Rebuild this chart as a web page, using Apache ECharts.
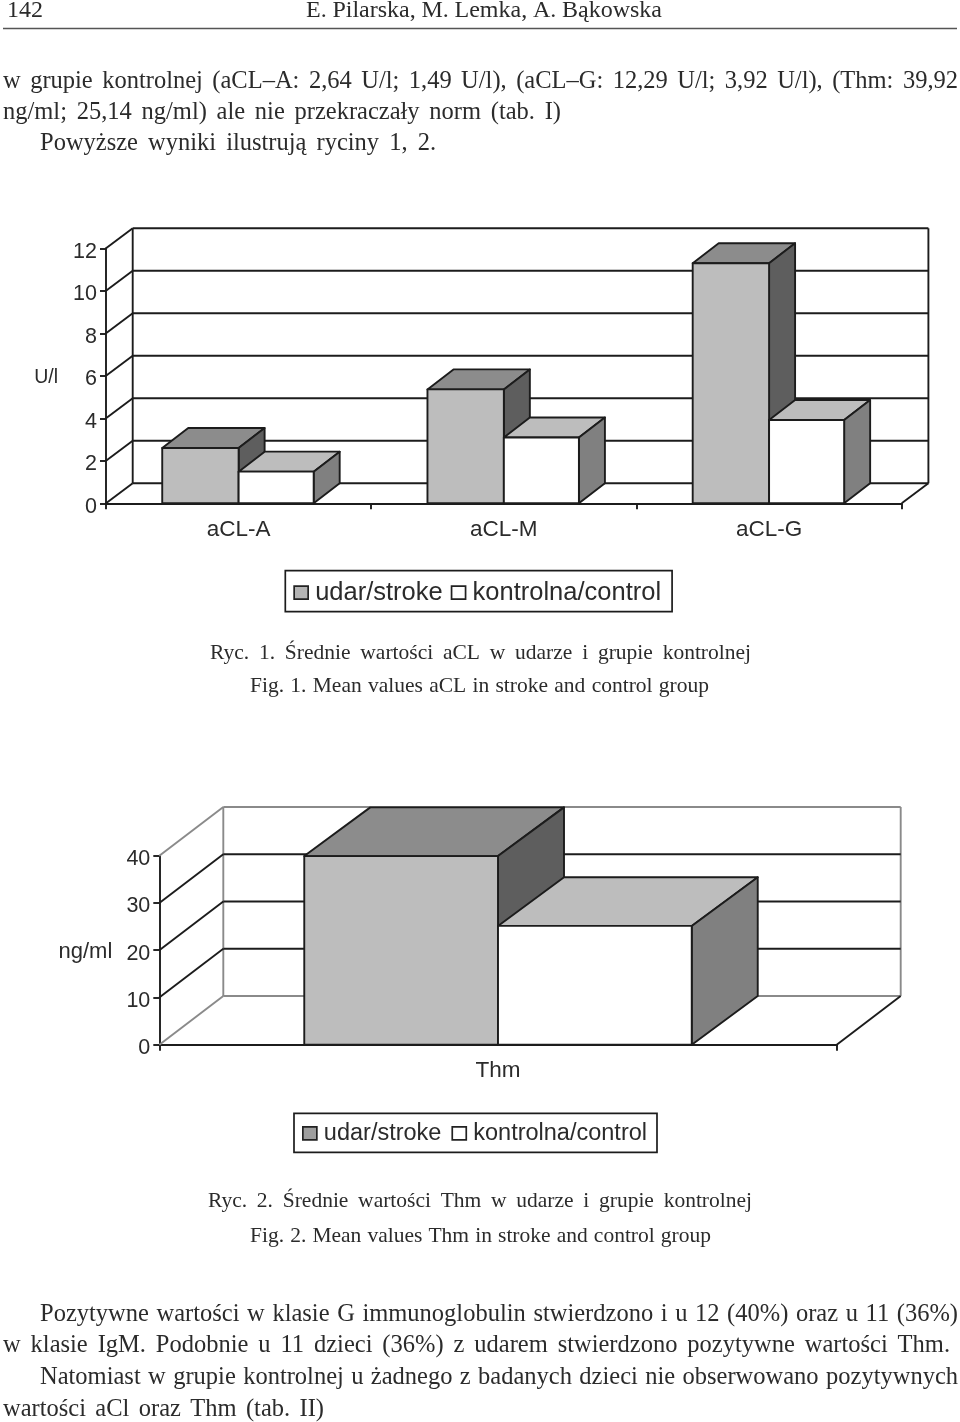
<!DOCTYPE html>
<html><head><meta charset="utf-8">
<style>html,body{margin:0;padding:0;background:#fff}#c{width:960px;height:1422px}</style>
<script src="https://cdn.jsdelivr.net/npm/echarts@6/dist/echarts.min.js"></script>
</head><body><div id="c"></div>
<script>
var aclCategories = ['aCL-A', 'aCL-M', 'aCL-G'];
var aclStroke = [2.6, 5.36, 11.3];
var aclControl = [1.49, 3.1, 3.92];
var aclTicks = [0, 2, 4, 6, 8, 10, 12];
var thmCategories = ['Thm'];
var thmStroke = [39.92];
var thmControl = [25.14];
var thmTicks = [0, 10, 20, 30, 40];
var seriesNames = ['udar/stroke', 'kontrolna/control'];

var SERIF = '"Liberation Serif"';
var SANS = '"Liberation Sans"';
var INK = '#2b2b2b';
var DARK = '#1c1c1c';
var GRAY = '#8a8a8a';

// [text, left, right (null = natural width), vertical middle, font size]
var pageLines = [
  ['142', 7, null, 11, 24],
  ['E. Pilarska, M. Lemka, A. Bąkowska', 306, 662, 11, 24],
  ['w grupie kontrolnej (aCL–A: 2,64 U/l; 1,49 U/l), (aCL–G: 12,29 U/l; 3,92 U/l), (Thm: 39,92', 3, 958, 82, 24.5],
  ['ng/ml; 25,14 ng/ml) ale nie przekraczały norm (tab. I)', 3, 561, 113, 24.5],
  ['Powyższe wyniki ilustrują ryciny 1, 2.', 40, 436, 144, 24.5],
  ['Ryc. 1. Średnie wartości aCL w udarze i grupie kontrolnej', 210, 751, 653, 21.5],
  ['Fig. 1. Mean values aCL in stroke and control group', 250, 709, 686, 21.5],
  ['Ryc. 2. Średnie wartości Thm w udarze i grupie kontrolnej', 208, 752, 1201, 21.5],
  ['Fig. 2. Mean values Thm in stroke and control group', 250, 711, 1236, 21.5],
  ['Pozytywne wartości w klasie G immunoglobulin stwierdzono i u 12 (40%) oraz u 11 (36%)', 40, 958, 1315, 24.5],
  ['w klasie IgM. Podobnie u 11 dzieci (36%) z udarem stwierdzono pozytywne wartości Thm.', 3, 950, 1346, 24.5],
  ['Natomiast w grupie kontrolnej u żadnego z badanych dzieci nie obserwowano pozytywnych', 40, 958, 1378, 24.5],
  ['wartości aCl oraz Thm (tab. II)', 3, 324, 1410, 24.5]
];

var meas = document.createElement('canvas').getContext('2d');
function pageText() {
  var out = [];
  pageLines.forEach(function (l) {
    var font = l[4] + 'px ' + SERIF;
    meas.font = font;
    var words = l[2] === null ? [l[0]] : l[0].split(' ');
    var total = 0;
    words.forEach(function (w) { total += meas.measureText(w).width; });
    var gap = words.length > 1 ? (l[2] - l[1] - total) / (words.length - 1) : 0;
    var x = l[1];
    words.forEach(function (w) {
      out.push({ type: 'text', silent: true, z: 10,
        style: { text: w, x: x, y: l[3], font: font, fill: INK, align: 'left', verticalAlign: 'middle' } });
      x += meas.measureText(w).width + gap;
    });
  });
  out.push({ type: 'line', silent: true, shape: { x1: 3, y1: 28.5, x2: 957, y2: 28.5 }, style: { stroke: '#555', lineWidth: 1.5 } });
  return out;
}

function wallSeries(idx, dx, dy, edgeColor, edgeWidth) {
  var ticks = idx === 0 ? aclTicks : thmTicks;
  return {
    type: 'custom', coordinateSystem: 'cartesian2d', xAxisIndex: idx, yAxisIndex: idx, silent: true, z: 1,
    data: ticks.map(function (t) { return [0, t]; }),
    encode: { x: 0, y: 1 },
    renderItem: function (params, api) {
      var cs = params.coordSys;
      var v = api.value(1);
      var y = api.coord([0, v])[1];
      var L = cs.x, R = cs.x + cs.width;
      var isEdge = v === ticks[0] || v === ticks[ticks.length - 1];
      var col = isEdge ? edgeColor : DARK;
      var st = { stroke: col, lineWidth: edgeWidth, fill: 'none' };
      var kids = [
        { type: 'line', shape: { x1: L, y1: y, x2: L + dx, y2: y - dy }, style: st },
        { type: 'line', shape: { x1: L + dx, y1: y - dy, x2: R + dx, y2: y - dy }, style: st }
      ];
      if (v === ticks[0]) {
        var top = cs.y - dy;
        kids.push({ type: 'line', shape: { x1: L + dx, y1: y - dy, x2: L + dx, y2: top }, style: st });
        kids.push({ type: 'line', shape: { x1: R + dx, y1: y - dy, x2: R + dx, y2: top }, style: st });
        kids.push({ type: 'line', shape: { x1: R, y1: y, x2: R + dx, y2: y - dy }, style: { stroke: DARK, lineWidth: edgeWidth } });
      }
      return { type: 'group', children: kids };
    }
  };
}

var faces = [
  { front: '#bdbdbd', top: '#8c8c8c', side: '#5e5e5e' },
  { front: '#ffffff', top: '#bdbdbd', side: '#808080' }
];

function barSeries(idx, which, values, widthFrac, dx, dy) {
  var f = faces[which];
  return {
    name: seriesNames[which],
    type: 'custom', coordinateSystem: 'cartesian2d', xAxisIndex: idx, yAxisIndex: idx, silent: true, z: 3 + which,
    itemStyle: { color: which === 0 ? '#b4b4b4' : '#ffffff', borderColor: '#222', borderWidth: 1.5 },
    data: values.map(function (v, i) { return [i, v]; }),
    encode: { x: 0, y: 1 },
    renderItem: function (params, api) {
      var i = api.value(0), v = api.value(1);
      var c = api.coord([i, v]);
      var base = api.coord([i, 0])[1];
      var w = api.size([1, 0])[0] * widthFrac;
      var x0 = which === 0 ? c[0] - w : c[0];
      var x1 = x0 + w, y = c[1];
      var st = function (fill) { return { fill: fill, stroke: DARK, lineWidth: 1.9, lineJoin: 'round' }; };
      return { type: 'group', children: [
        { type: 'polygon', shape: { points: [[x0, y], [x0 + dx, y - dy], [x1 + dx, y - dy], [x1, y]] }, style: st(f.top) },
        { type: 'polygon', shape: { points: [[x1, y], [x1 + dx, y - dy], [x1 + dx, base - dy], [x1, base]] }, style: st(f.side) },
        { type: 'polygon', shape: { points: [[x0, y], [x1, y], [x1, base], [x0, base]] }, style: st(f.front) }
      ] };
    }
  };
}

function xAxis(idx, cats) {
  return { type: 'category', gridIndex: idx, data: cats, boundaryGap: true,
    axisLine: { show: true, lineStyle: { color: DARK, width: 1.9 } },
    axisTick: { show: true, length: 6, alignWithLabel: false, lineStyle: { color: DARK, width: 1.9 } },
    axisLabel: { color: INK, fontFamily: SANS, fontSize: 22.5, margin: 15 },
    splitLine: { show: false } };
}
function yAxis(idx, max, step, name, gap, nameSize) {
  return { type: 'value', gridIndex: idx, min: 0, max: max, interval: step,
    name: '{a|' + name + '}', nameLocation: 'middle', nameRotate: 0, nameGap: gap,
    nameTextStyle: { rich: { a: { color: INK, fontFamily: SANS, fontSize: nameSize, padding: [4, 0, 0, 0] } } },
    axisLine: { show: true, lineStyle: { color: DARK, width: 1.9 } },
    axisTick: { show: true, length: 6, lineStyle: { color: DARK, width: 1.9 } },
    axisLabel: { margin: 9, formatter: '{a|{value}}',
      rich: { a: { color: INK, fontFamily: SANS, fontSize: 21.5, padding: [7, 0, 0, 0] } } },
    splitLine: { show: false } };
}
function legend(left, top, gap, pad, swatch, size, textTop) {
  return { orient: 'horizontal', left: left, top: top, itemWidth: 14, itemHeight: 13, itemGap: gap,
    padding: pad, borderColor: DARK, borderWidth: 1.7, icon: 'rect', selectedMode: false,
    textStyle: { color: INK, fontFamily: SANS, fontSize: size, padding: [textTop, 0, 0, 2] },
    data: [{ name: seriesNames[0], itemStyle: { color: swatch, borderColor: '#222', borderWidth: 1.7 } },
           { name: seriesNames[1], itemStyle: { color: '#fff', borderColor: '#222', borderWidth: 1.7 } }] };
}

var chart = echarts.init(document.getElementById('c'), null, { renderer: 'canvas' });
chart.setOption({
  animation: false,
  backgroundColor: '#fff',
  tooltip: { show: false },
  grid: [
    { left: 106, top: 248.3, width: 795.7, height: 255 },
    { left: 159.3, top: 855.7, width: 677.4, height: 189 }
  ],
  xAxis: [xAxis(0, aclCategories), xAxis(1, thmCategories)],
  yAxis: [yAxis(0, 12, 2, 'U/l', 48, 19.5), yAxis(1, 40, 10, 'ng/ml', 47, 22)],
  legend: [legend(285.3, 570.7, 8, [9, 11, 6, 8], '#b4b4b4', 25.5, 3), legend(294, 1113.3, 10, [8, 10, 7, 8], '#9e9e9e', 23.5, 4)],
  series: [
    wallSeries(0, 26.7, 20, DARK, 1.9),
    barSeries(0, 0, aclStroke, 0.288, 26, 20),
    barSeries(0, 1, aclControl, 0.283, 26, 20),
    wallSeries(1, 64, 48.7, GRAY, 1.9),
    barSeries(1, 0, thmStroke, 0.286, 66, 48.7),
    barSeries(1, 1, thmControl, 0.286, 66, 48.7)
  ],
  graphic: { elements: pageText() }
});
</script></body></html>
